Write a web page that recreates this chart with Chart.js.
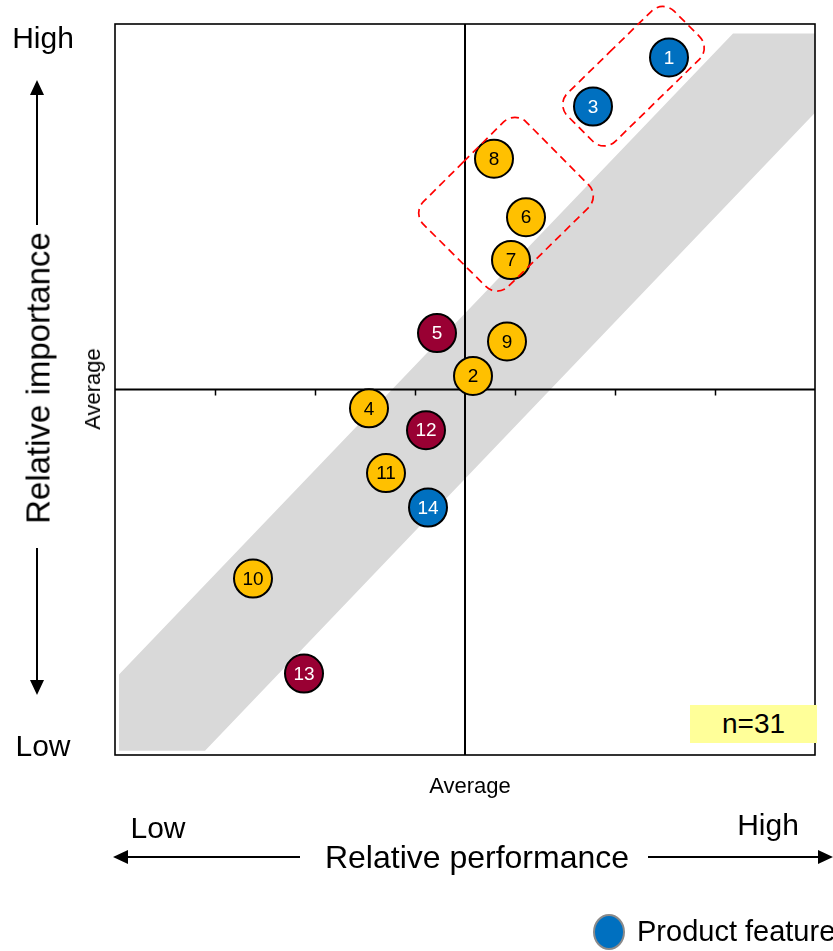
<!DOCTYPE html>
<html><head><meta charset="utf-8">
<script src="https://cdn.jsdelivr.net/npm/chart.js@4.4.1/dist/chart.umd.min.js"></script>
<style>
html,body{margin:0;padding:0;background:#fff;overflow:hidden}
#wrap{position:relative;width:833px;height:951px;overflow:hidden;font-family:"Liberation Sans",Arial,sans-serif;color:#000}
#wrap canvas{position:absolute;left:0;top:0}
.t{position:absolute;white-space:nowrap;transform:translate(-50%,-50%);line-height:1}
.v{transform:translate(-50%,-50%) rotate(-90deg)}
#nbox{position:absolute;left:690px;top:705px;width:127px;height:38px;background:#FFFF99;font-size:28px;display:flex;align-items:center;justify-content:center}
#lgdot{position:absolute;left:593px;top:914px;width:28px;height:32px;border:2px solid #8a8a8a;border-radius:50%;background:#0070C0}
#lgtxt{position:absolute;left:637px;top:931px;transform:translateY(-50%);font-size:29px;white-space:nowrap;line-height:1}
</style></head><body>
<div id="wrap">
<canvas id="c" width="833" height="951"></canvas>
<div class="t" style="left:43px;top:38px;font-size:30px">High</div>
<div class="t" style="left:43px;top:746px;font-size:30px">Low</div>
<div class="t v" style="left:38px;top:378px;font-size:33px">Relative importance</div>
<div class="t v" style="left:93px;top:389px;font-size:22px">Average</div>
<div class="t" style="left:470px;top:786px;font-size:22px">Average</div>
<div class="t" style="left:158px;top:828px;font-size:30px">Low</div>
<div class="t" style="left:768px;top:825px;font-size:30px">High</div>
<div class="t" style="left:477px;top:857px;font-size:32px">Relative performance</div>
<div id="nbox">n=31</div>
<div id="lgdot"></div>
<div id="lgtxt">Product feature</div>
</div>
<script>
// ---- data ----
const featureLabels = ['1','2','3','4','5','6','7','8','9','10','11','12','13','14'];
const performance   = [5.54, 3.58, 4.78, 2.54, 3.22, 4.11, 3.96, 3.79, 3.92, 1.38, 2.71, 3.11, 1.89, 3.13];
const importance    = [6.68, 3.63, 6.21, 3.32, 4.04, 5.15, 4.74, 5.71, 3.96, 1.69, 2.70, 3.11, 0.78, 2.37];
const featureGroup  = ['A','B','A','B','C','B','B','B','B','B','B','C','C','A'];
const groupNames    = {A:'Product feature', B:'Group B', C:'Group C'};
const averageX = 3.5, averageY = 3.5;
const xTicks = [1,2,3,4,5,6];
const bandX = [0.04, 6.18, 7.00, 7.00, 0.90, 0.04];
const bandY = [0.77, 6.91, 6.91, 6.15, 0.04, 0.04];
const clusterA_X = [4.41, 5.48, 5.96, 4.89];
const clusterA_Y = [6.23, 7.23, 6.77, 5.77];
const clusterB_X = [2.97, 4.00, 4.85, 3.82];
const clusterB_Y = [5.19, 6.17, 5.35, 4.38];

const colors = {A:'#0070C0', B:'#FFC000', C:'#990033'};
const textColors = {A:'#ffffff', B:'#000000', C:'#ffffff'};

function groupData(g){
  const out=[];
  featureLabels.forEach((l,i)=>{ if(featureGroup[i]===g) out.push({x:performance[i], y:importance[i], label:l}); });
  return out;
}

const bandData = bandX.map((x,i)=>({x, y:bandY[i]}));

const decor = {
  id:'decor',
  afterDatasetDraw(chart, args){
    if(args.index!==0) return;
    const ctx=chart.ctx, a=chart.chartArea, sx=chart.scales.x, sy=chart.scales.y;
    ctx.save();
    ctx.strokeStyle='#000';
    ctx.lineWidth=1.6;
    ctx.strokeRect(a.left, a.top, a.right-a.left, a.bottom-a.top);
    ctx.lineWidth=2;
    const cx=sx.getPixelForValue(averageX), cy=sy.getPixelForValue(averageY);
    ctx.beginPath();
    ctx.moveTo(cx,a.top); ctx.lineTo(cx,a.bottom);
    ctx.moveTo(a.left,cy); ctx.lineTo(a.right,cy);
    ctx.stroke();
    ctx.lineWidth=1.5;
    ctx.beginPath();
    xTicks.forEach(t=>{const px=Math.round(sx.getPixelForValue(t))+0.5; ctx.moveTo(px,cy); ctx.lineTo(px,cy+6);});
    ctx.stroke();
    ctx.restore();
  },
  afterDatasetsDraw(chart){
    const ctx=chart.ctx, sx=chart.scales.x, sy=chart.scales.y;
    ctx.save();
    ctx.font='19px "Liberation Sans", Arial, sans-serif';
    ctx.textAlign='center'; ctx.textBaseline='middle';
    chart.data.datasets.forEach((ds,di)=>{
      if(!ds.group) return;
      const meta=chart.getDatasetMeta(di);
      meta.data.forEach((el,i)=>{
        ctx.fillStyle=textColors[ds.group];
        ctx.fillText(ds.data[i].label, el.x, el.y+1);
      });
    });
    function rounded(xs, ys, r){
      const p=xs.map((x,i)=>[sx.getPixelForValue(x), sy.getPixelForValue(ys[i])]);
      const n=p.length;
      const m=[(p[0][0]+p[1][0])/2,(p[0][1]+p[1][1])/2];
      ctx.beginPath();
      ctx.moveTo(m[0],m[1]);
      for(let k=1;k<=n;k++){
        const c=p[k%n], nx=p[(k+1)%n];
        ctx.arcTo(c[0],c[1],nx[0],nx[1],r);
      }
      ctx.closePath();
      ctx.stroke();
    }
    ctx.strokeStyle='#FF0000';
    ctx.lineWidth=1.7;
    ctx.setLineDash([8,5]);
    rounded(clusterA_X, clusterA_Y, 16);
    rounded(clusterB_X, clusterB_Y, 16);
    ctx.restore();
  },
  afterDraw(chart){
    const ctx=chart.ctx;
    ctx.save();
    ctx.strokeStyle='#000'; ctx.fillStyle='#000'; ctx.lineWidth=2;
    function arrow(x1,y1,x2,y2){
      const ang=Math.atan2(y2-y1,x2-x1), L=15, W=7;
      const bx=x2-L*Math.cos(ang), by=y2-L*Math.sin(ang);
      ctx.beginPath(); ctx.moveTo(x1,y1); ctx.lineTo(bx,by); ctx.stroke();
      ctx.beginPath();
      ctx.moveTo(x2,y2);
      ctx.lineTo(bx+W*Math.sin(ang), by-W*Math.cos(ang));
      ctx.lineTo(bx-W*Math.sin(ang), by+W*Math.cos(ang));
      ctx.closePath(); ctx.fill();
    }
    arrow(37,225,37,80);
    arrow(37,548,37,695);
    arrow(300,857,113,857);
    arrow(648,857,833,857);
    ctx.restore();
  }
};

const bubbleSets = ['A','B','C'].map(g=>({
  type:'scatter',
  label:groupNames[g],
  group:g,
  data:groupData(g),
  backgroundColor:colors[g],
  borderColor:'#000',
  borderWidth:2,
  pointRadius:19,
  pointHoverRadius:19,
  order:0
}));

new Chart(document.getElementById('c'),{
  type:'scatter',
  data:{datasets:[
    {type:'line', label:'band', data:bandData, fill:'shape', backgroundColor:'#D9D9D9', borderWidth:0, pointRadius:0, tension:0, order:10},
    ...bubbleSets
  ]},
  options:{
    responsive:false,
    animation:false,
    devicePixelRatio:1,
    layout:{autoPadding:false, padding:{left:115,right:18,top:24,bottom:196}},
    scales:{
      x:{type:'linear',min:0,max:7,display:false},
      y:{type:'linear',min:0,max:7,display:false}
    },
    plugins:{legend:{display:false},tooltip:{enabled:false}}
  },
  plugins:[decor]
});
</script>
</body></html>
